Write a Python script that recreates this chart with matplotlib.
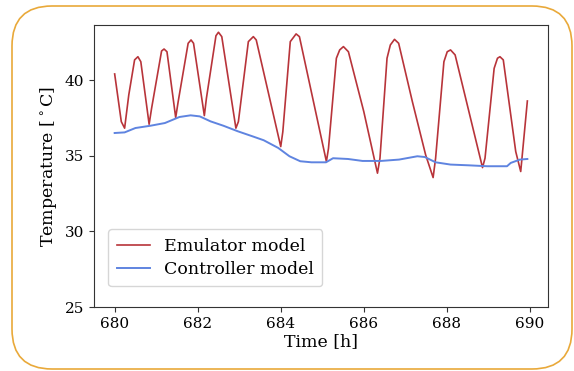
import matplotlib
matplotlib.use("Agg")
import matplotlib.pyplot as plt
from matplotlib.patches import FancyBboxPatch
from matplotlib.transforms import IdentityTransform

plt.rcParams["font.family"] = "DejaVu Serif"

# Emulator model (red)
emu_t = [680.0, 680.16, 680.24, 680.34, 680.48, 680.56, 680.63, 680.83,
         680.89, 681.13, 681.19, 681.26, 681.47,
         681.53, 681.77, 681.84, 681.9, 682.16,
         682.21, 682.44, 682.5, 682.58, 682.92,
         682.98, 683.22, 683.34, 683.41, 684.0,
         684.05, 684.23, 684.37, 684.45, 685.1,
         685.15, 685.34, 685.42, 685.51, 685.63, 686.0, 686.33,
         686.39, 686.56, 686.64, 686.74, 686.84, 687.17, 687.49, 687.67,
         687.73, 687.93, 688.01, 688.09, 688.2, 688.86,
         688.92, 689.14, 689.22, 689.28, 689.36, 689.66, 689.78,
         689.94]
emu_T = [40.43, 37.27, 36.84, 39.04, 41.36, 41.57, 41.24, 37.1,
         38.16, 41.95, 42.08, 41.9, 37.54,
         38.6, 42.46, 42.68, 42.46, 37.67,
         38.82, 42.96, 43.19, 42.9, 36.84,
         37.27, 42.57, 42.9, 42.68, 35.62,
         36.6, 42.57, 43.08, 42.9, 34.63,
         35.5, 41.47, 42.02, 42.24, 41.9, 37.94, 33.86,
         34.85, 41.47, 42.35, 42.72, 42.46, 38.6, 35.07, 33.57,
         34.85, 41.24, 41.9, 42.02, 41.69, 34.23,
         34.85, 40.8, 41.47, 41.57, 41.36, 35.29, 33.97,
         38.64]

# Controller model (blue)
ctrl_t = [680.0, 680.24, 680.5, 680.86, 681.21, 681.56, 681.83, 682.05,
          682.31, 682.62, 682.97, 683.32, 683.59, 683.94, 684.21, 684.47,
          684.74, 685.09, 685.26, 685.62, 685.97, 686.41, 686.85, 687.29,
          687.47, 687.73, 688.09, 688.53, 688.97, 689.45, 689.54, 689.76,
          689.94]
ctrl_T = [36.52, 36.56, 36.85, 37.0, 37.18, 37.58, 37.69, 37.62,
          37.29, 37.0, 36.63, 36.3, 36.04, 35.53, 34.98, 34.65,
          34.58, 34.58, 34.85, 34.8, 34.67, 34.67, 34.76, 34.98,
          34.93, 34.58, 34.43, 34.38, 34.32, 34.32, 34.54, 34.76,
          34.8]

xticks = [680, 682, 684, 686, 688, 690]
yticks = [25, 30, 35, 40]

fig = plt.figure(figsize=(5.74, 3.71), dpi=100)
ax = fig.add_axes([0.1638, 0.1725, 0.7909, 0.7601])

ax.plot(emu_t, emu_T, color="#b8343a", lw=1.2, label="Emulator model")
ax.plot(ctrl_t, ctrl_T, color="#5f84e0", lw=1.4, label="Controller model")

ax.set_ylim(25, 43.67)
ax.set_xticks(xticks)
ax.set_yticks(yticks)
ax.tick_params(labelsize=11, color="#333333")
for s in ax.spines.values():
    s.set_color("#333333")
ax.set_xlabel("Time [h]", fontsize=12.5, labelpad=2)
ax.set_ylabel(r"Temperature [$^\circ$C]", fontsize=12.5)
ax.legend(loc="lower left", bbox_to_anchor=(0.012, 0.042), fontsize=12.5,
          handlelength=1.9, borderpad=0.5, labelspacing=0.35)

# rounded orange frame around the whole picture
frame = FancyBboxPatch((12, 2), 560, 363, boxstyle="round,pad=0,rounding_size=40",
                       transform=IdentityTransform(), fill=False,
                       edgecolor="#e9a93a", lw=1.2)
fig.patches.append(frame)

fig.savefig("out.png", dpi=100)
